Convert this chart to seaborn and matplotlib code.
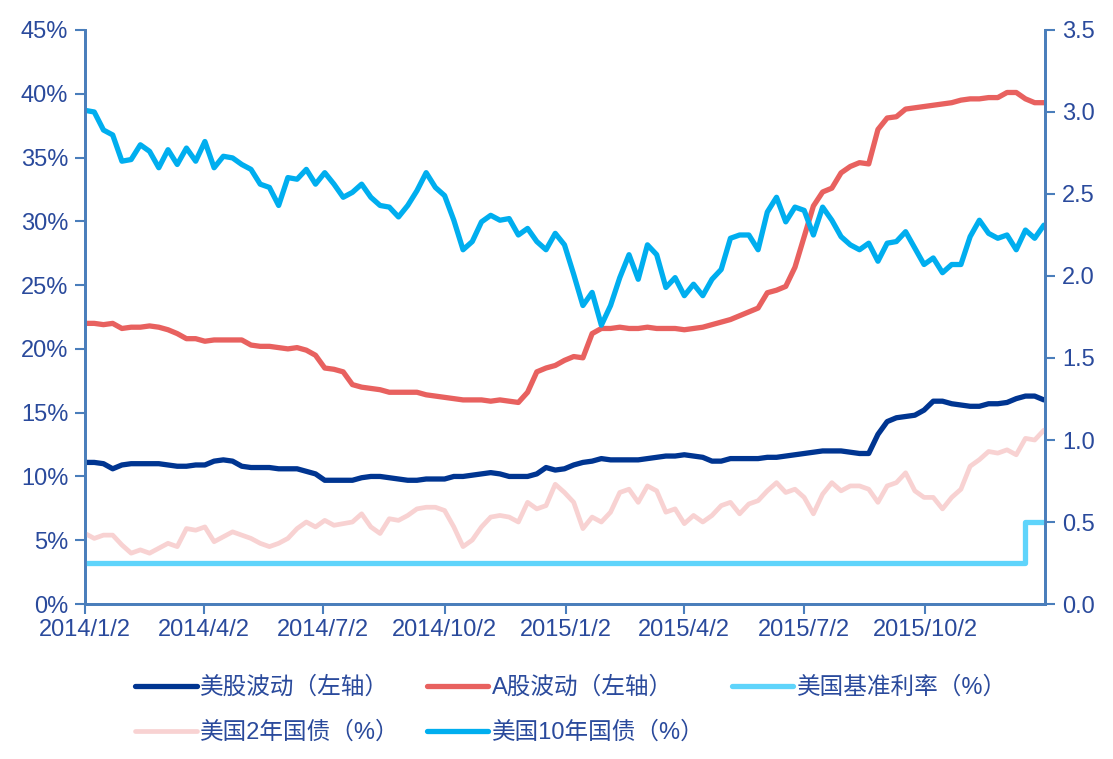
import pandas as pd
import matplotlib.pyplot as plt
import seaborn as sns

# weekly samples, 2014/1/2 .. 2015/12/31
week_start = '2014-01-02'
week_end = '2015-12-31'

# left axis, %
us_vol = [11.1, 11.1, 11.0, 10.6, 10.9, 11.0, 11.0, 11.0, 11.0, 10.9,
          10.8, 10.8, 10.9, 10.9, 11.2, 11.3, 11.2, 10.8, 10.7, 10.7,
          10.7, 10.6, 10.6, 10.6, 10.4, 10.2, 9.7, 9.7, 9.7, 9.7,
          9.9, 10.0, 10.0, 9.9, 9.8, 9.7, 9.7, 9.8, 9.8, 9.8,
          10.0, 10.0, 10.1, 10.2, 10.3, 10.2, 10.0, 10.0, 10.0, 10.2,
          10.7, 10.5, 10.6, 10.9, 11.1, 11.2, 11.4, 11.3, 11.3, 11.3,
          11.3, 11.4, 11.5, 11.6, 11.6, 11.7, 11.6, 11.5, 11.2, 11.2,
          11.4, 11.4, 11.4, 11.4, 11.5, 11.5, 11.6, 11.7, 11.8, 11.9,
          12.0, 12.0, 12.0, 11.9, 11.8, 11.8, 13.3, 14.3, 14.6, 14.7,
          14.8, 15.2, 15.9, 15.9, 15.7, 15.6, 15.5, 15.5, 15.7, 15.7,
          15.8, 16.1, 16.3, 16.3, 16.0]

a_vol = [22.0, 22.0, 21.9, 22.0, 21.6, 21.7, 21.7, 21.8, 21.7, 21.5,
         21.2, 20.8, 20.8, 20.6, 20.7, 20.7, 20.7, 20.7, 20.3, 20.2,
         20.2, 20.1, 20.0, 20.1, 19.9, 19.5, 18.5, 18.4, 18.2, 17.2,
         17.0, 16.9, 16.8, 16.6, 16.6, 16.6, 16.6, 16.4, 16.3, 16.2,
         16.1, 16.0, 16.0, 16.0, 15.9, 16.0, 15.9, 15.8, 16.6, 18.2,
         18.5, 18.7, 19.1, 19.4, 19.3, 21.2, 21.6, 21.6, 21.7, 21.6,
         21.6, 21.7, 21.6, 21.6, 21.6, 21.5, 21.6, 21.7, 21.9, 22.1,
         22.3, 22.6, 22.9, 23.2, 24.4, 24.6, 24.9, 26.4, 28.8, 31.2,
         32.3, 32.6, 33.8, 34.3, 34.6, 34.5, 37.2, 38.1, 38.2, 38.8,
         38.9, 39.0, 39.1, 39.2, 39.3, 39.5, 39.6, 39.6, 39.7, 39.7,
         40.1, 40.1, 39.6, 39.3, 39.3]

# right axis, %
us2y = [0.43, 0.40, 0.42, 0.42, 0.36, 0.31, 0.33, 0.31, 0.34, 0.37,
        0.35, 0.46, 0.45, 0.47, 0.38, 0.41, 0.44, 0.42, 0.40, 0.37,
        0.35, 0.37, 0.40, 0.46, 0.50, 0.47, 0.51, 0.48, 0.49, 0.50,
        0.55, 0.47, 0.43, 0.52, 0.51, 0.54, 0.58, 0.59, 0.59, 0.57,
        0.47, 0.35, 0.39, 0.47, 0.53, 0.54, 0.53, 0.50, 0.62, 0.58,
        0.60, 0.73, 0.68, 0.62, 0.46, 0.53, 0.50, 0.56, 0.68, 0.70,
        0.62, 0.72, 0.69, 0.56, 0.58, 0.49, 0.54, 0.50, 0.54, 0.60,
        0.62, 0.55, 0.61, 0.63, 0.69, 0.74, 0.68, 0.70, 0.65, 0.55,
        0.67, 0.74, 0.69, 0.72, 0.72, 0.70, 0.62, 0.72, 0.74, 0.80,
        0.69, 0.65, 0.65, 0.58, 0.65, 0.70, 0.84, 0.88, 0.93, 0.92,
        0.94, 0.91, 1.01, 1.00, 1.06]

us10y = [3.01, 3.00, 2.89, 2.86, 2.70, 2.71, 2.80, 2.76, 2.66, 2.77,
         2.68, 2.78, 2.70, 2.82, 2.66, 2.73, 2.72, 2.68, 2.65, 2.56,
         2.54, 2.43, 2.60, 2.59, 2.65, 2.56, 2.63, 2.56, 2.48, 2.51,
         2.56, 2.48, 2.43, 2.42, 2.36, 2.43, 2.52, 2.63, 2.54, 2.49,
         2.34, 2.16, 2.21, 2.33, 2.37, 2.34, 2.35, 2.25, 2.29, 2.21,
         2.16, 2.26, 2.19, 2.01, 1.82, 1.90, 1.70, 1.82, 1.99, 2.13,
         1.98, 2.19, 2.13, 1.93, 1.99, 1.88, 1.95, 1.88, 1.98, 2.04,
         2.23, 2.25, 2.25, 2.16, 2.39, 2.48, 2.33, 2.42, 2.40, 2.25,
         2.42, 2.34, 2.24, 2.19, 2.16, 2.20, 2.09, 2.20, 2.21, 2.27,
         2.17, 2.07, 2.11, 2.02, 2.07, 2.07, 2.24, 2.34, 2.26, 2.23,
         2.25, 2.16, 2.28, 2.23, 2.31]

# fed funds target (upper), changes only
rate_dates = ['2014-01-02', '2015-12-17', '2015-12-31']
rate_vals = [0.25, 0.5, 0.5]

tick_dates = ['2014-01-02', '2014-04-02', '2014-07-02', '2014-10-02',
              '2015-01-02', '2015-04-02', '2015-07-02', '2015-10-02']
tick_labels = ['2014/1/2', '2014/4/2', '2014/7/2', '2014/10/2',
               '2015/1/2', '2015/4/2', '2015/7/2', '2015/10/2']

df = pd.DataFrame({
    'date': pd.date_range(week_start, week_end, freq='7D'),
    'us_vol': us_vol, 'a_vol': a_vol, 'us2y': us2y, 'us10y': us10y,
})
rate_df = pd.DataFrame({'date': pd.to_datetime(rate_dates), 'rate': rate_vals})

sns.set_theme(style='white')
plt.rcParams['font.family'] = ['Liberation Sans', 'Noto Sans CJK SC', 'DejaVu Sans']

axis_col = '#4A7EBB'
text_col = '#2A4A9C'
fs = 17

fig = plt.figure(figsize=(11.13, 7.59), dpi=100)
ax = fig.add_axes([0.0764, 0.2042, 0.8627, 0.7563])
ax2 = ax.twinx()

sns.lineplot(data=df, x='date', y='us_vol', ax=ax, color='#003591', lw=3.8, label='美股波动（左轴）')
sns.lineplot(data=df, x='date', y='a_vol', ax=ax, color='#E8615F', lw=3.8, label='A股波动（左轴）')
sns.lineplot(data=rate_df, x='date', y='rate', ax=ax2, color='#5FD4FB', lw=3.8,
             drawstyle='steps-post', label='美国基准利率（%）')
sns.lineplot(data=df, x='date', y='us2y', ax=ax2, color='#F8D2D2', lw=3.4, label='美国2年国债（%）')
sns.lineplot(data=df, x='date', y='us10y', ax=ax2, color='#00AEEF', lw=3.8, label='美国10年国债（%）')

ax.set_ylim(0, 45)
ax.set_yticks(range(0, 46, 5))
ax.set_yticklabels([f'{v}%' for v in range(0, 46, 5)])
ax2.set_ylim(0, 3.5)
ax2.set_yticks([i * 0.5 for i in range(8)])
ax2.set_yticklabels([f'{i * 0.5:.1f}' for i in range(8)])

ax.set_xlim(pd.Timestamp('2014-01-02'), pd.Timestamp('2016-01-01'))
ax.set_xticks(pd.to_datetime(tick_dates))
ax.set_xticklabels(tick_labels)

for a in (ax, ax2):
    a.set_xlabel('')
    a.set_ylabel('')
    a.spines['top'].set_visible(False)
    for s in ('left', 'right', 'bottom'):
        a.spines[s].set_color(axis_col)
        a.spines[s].set_linewidth(2)
    a.tick_params(axis='both', direction='out', length=7, width=1.5, color=axis_col,
                  labelcolor=text_col, labelsize=fs)
    a.grid(False)

ax.tick_params(axis='x', bottom=True, pad=4)
ax.tick_params(axis='y', left=True, pad=5)
ax2.tick_params(axis='y', right=True, pad=5)

# legend: row-major order across 3 columns
h1, l1 = ax.get_legend_handles_labels()
h2, l2 = ax2.get_legend_handles_labels()
ax.get_legend().remove()
ax2.get_legend().remove()
hd = dict(zip(l1 + l2, h1 + h2))
order = ['美股波动（左轴）', '美国2年国债（%）', 'A股波动（左轴）', '美国10年国债（%）', '美国基准利率（%）']
leg = fig.legend([hd[k] for k in order], order, loc='center', bbox_to_anchor=(0.513, 0.064),
                 ncol=3, frameon=False, fontsize=fs, handlelength=2.6, handletextpad=0.15,
                 columnspacing=1.15, labelspacing=0.95)
for t in leg.get_texts():
    t.set_color(text_col)

plt.savefig('out.png', dpi=100)
